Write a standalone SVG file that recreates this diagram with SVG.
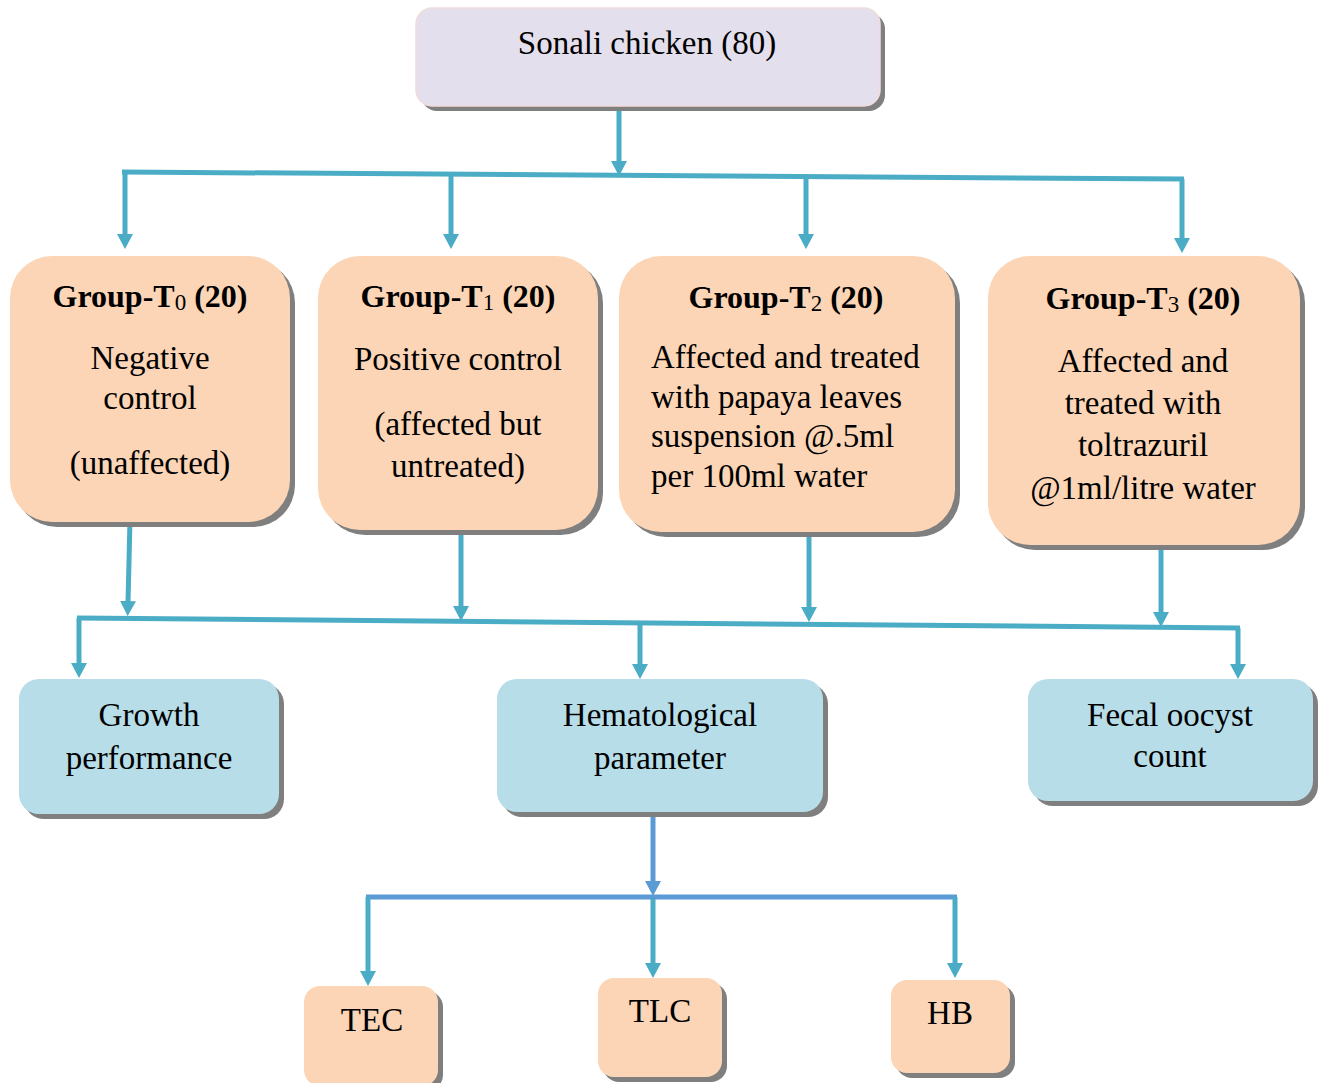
<svg xmlns="http://www.w3.org/2000/svg" width="1325" height="1083" viewBox="0 0 1325 1083">
<style>
  .shadow { fill: #7f7f7f; }
  .lav { fill: #e4dfec; stroke: #f2dcdb; stroke-width: 1.5; }
  .peach { fill: #fbd5b5; }
  .blue { fill: #b7dde8; }
  text { font-family: "Liberation Serif", "Times New Roman", serif; fill: #000; font-size: 33px; }
  .c { text-anchor: middle; }
  .b { font-weight: bold; font-size: 32px; }
  .sub { font-weight: normal; font-size: 23px; }
  .con { fill: none; stroke: #4bacc6; stroke-width: 5; }
  .con2 { fill: none; stroke: #5b9bd5; stroke-width: 5; }
</style>
<defs>
  <marker id="ah" viewBox="0 0 16 16" refX="1" refY="8" markerWidth="16" markerHeight="16" markerUnits="userSpaceOnUse" orient="auto">
    <path d="M0,0 L15,8 L0,16 z" fill="#4bacc6"/>
  </marker>
  <marker id="ah2" viewBox="0 0 16 16" refX="1" refY="8" markerWidth="16" markerHeight="16" markerUnits="userSpaceOnUse" orient="auto">
    <path d="M0,0 L15,8 L0,16 z" fill="#5b9bd5"/>
  </marker>
</defs>

<g id="connectors">
  <path class="con" d="M619,108 L619,162" marker-end="url(#ah)"/>
  <path class="con" d="M122,172 L1184,179"/>
  <path class="con" d="M125,172 L125,235" marker-end="url(#ah)"/>
  <path class="con" d="M451,174 L451,235" marker-end="url(#ah)"/>
  <path class="con" d="M806,177 L806,235" marker-end="url(#ah)"/>
  <path class="con" d="M1182,179 L1182,239" marker-end="url(#ah)"/>

  <path class="con" d="M130,520 L128,602" marker-end="url(#ah)"/>
  <path class="con" d="M461,533 L461,607" marker-end="url(#ah)"/>
  <path class="con" d="M809,535 L809,608" marker-end="url(#ah)"/>
  <path class="con" d="M1161,545 L1161,613" marker-end="url(#ah)"/>
  <path class="con" d="M77,618 L1240,628"/>
  <path class="con" d="M79,618 L79,664" marker-end="url(#ah)"/>
  <path class="con" d="M640,623 L640,665" marker-end="url(#ah)"/>
  <path class="con" d="M1238,628 L1238,665" marker-end="url(#ah)"/>

  <path class="con2" d="M653,816 L653,882" marker-end="url(#ah2)"/>
  <path class="con2" d="M366,897 L957,897"/>
  <path class="con" d="M368,897 L368,972" marker-end="url(#ah)"/>
  <path class="con" d="M653,899 L653,964" marker-end="url(#ah)"/>
  <path class="con" d="M955,897 L955,964" marker-end="url(#ah)"/>
</g>

<g id="sonali">
  <rect class="shadow" x="421" y="13" width="464" height="98" rx="16"/>
  <rect class="lav" x="416" y="8" width="464" height="98" rx="16"/>
  <text class="c" x="647" y="54">Sonali chicken (80)</text>
</g>

<g id="t0">
  <rect class="shadow" x="15" y="261" width="280" height="266" rx="42"/>
  <rect class="peach" x="10" y="256" width="280" height="266" rx="42"/>
  <text class="c b" x="150" y="307">Group-T<tspan class="sub" dy="3">0</tspan><tspan dy="-3"> (20)</tspan></text>
  <text class="c" x="150" y="369">Negative</text>
  <text class="c" x="150" y="409">control</text>
  <text class="c" x="150" y="474">(unaffected)</text>
</g>

<g id="t1">
  <rect class="shadow" x="323" y="261" width="280" height="274" rx="42"/>
  <rect class="peach" x="318" y="256" width="280" height="274" rx="42"/>
  <text class="c b" x="458" y="307">Group-T<tspan class="sub" dy="3">1</tspan><tspan dy="-3"> (20)</tspan></text>
  <text class="c" x="458" y="370">Positive control</text>
  <text class="c" x="458" y="435">(affected but</text>
  <text class="c" x="458" y="477">untreated)</text>
</g>

<g id="t2">
  <rect class="shadow" x="624" y="261" width="336" height="276" rx="42"/>
  <rect class="peach" x="619" y="256" width="336" height="276" rx="42"/>
  <text class="c b" x="786" y="308">Group-T<tspan class="sub" dy="3">2</tspan><tspan dy="-3"> (20)</tspan></text>
  <text x="651" y="368">Affected and treated</text>
  <text x="651" y="408">with papaya leaves</text>
  <text x="651" y="447">suspension @.5ml</text>
  <text x="651" y="487">per 100ml water</text>
</g>

<g id="t3">
  <rect class="shadow" x="993" y="261" width="312" height="289" rx="42"/>
  <rect class="peach" x="988" y="256" width="312" height="289" rx="42"/>
  <text class="c b" x="1143" y="309">Group-T<tspan class="sub" dy="3">3</tspan><tspan dy="-3"> (20)</tspan></text>
  <text class="c" x="1143" y="372">Affected and</text>
  <text class="c" x="1143" y="414">treated with</text>
  <text class="c" x="1143" y="456">toltrazuril</text>
  <text class="c" x="1143" y="499">@1ml/litre water</text>
</g>

<g id="growth">
  <rect class="shadow" x="24" y="684" width="260" height="135" rx="20"/>
  <rect class="blue" x="19" y="679" width="260" height="135" rx="20"/>
  <text class="c" x="149" y="726">Growth</text>
  <text class="c" x="149" y="769">performance</text>
</g>

<g id="hema">
  <rect class="shadow" x="502" y="684" width="326" height="133" rx="20"/>
  <rect class="blue" x="497" y="679" width="326" height="133" rx="20"/>
  <text class="c" x="660" y="726">Hematological</text>
  <text class="c" x="660" y="769">parameter</text>
</g>

<g id="fecal">
  <rect class="shadow" x="1033" y="684" width="285" height="122" rx="20"/>
  <rect class="blue" x="1028" y="679" width="285" height="122" rx="20"/>
  <text class="c" x="1170" y="726">Fecal oocyst</text>
  <text class="c" x="1170" y="767">count</text>
</g>

<g id="tec">
  <rect class="shadow" x="309" y="991" width="134" height="100" rx="16"/>
  <rect class="peach" x="304" y="986" width="134" height="100" rx="16"/>
  <text class="c" x="372" y="1031">TEC</text>
</g>

<g id="tlc">
  <rect class="shadow" x="603" y="983" width="124" height="99" rx="16"/>
  <rect class="peach" x="598" y="978" width="124" height="99" rx="16"/>
  <text class="c" x="660" y="1022">TLC</text>
</g>

<g id="hb">
  <rect class="shadow" x="896" y="985" width="119" height="93" rx="16"/>
  <rect class="peach" x="891" y="980" width="119" height="93" rx="16"/>
  <text class="c" x="950" y="1024">HB</text>
</g>
</svg>
